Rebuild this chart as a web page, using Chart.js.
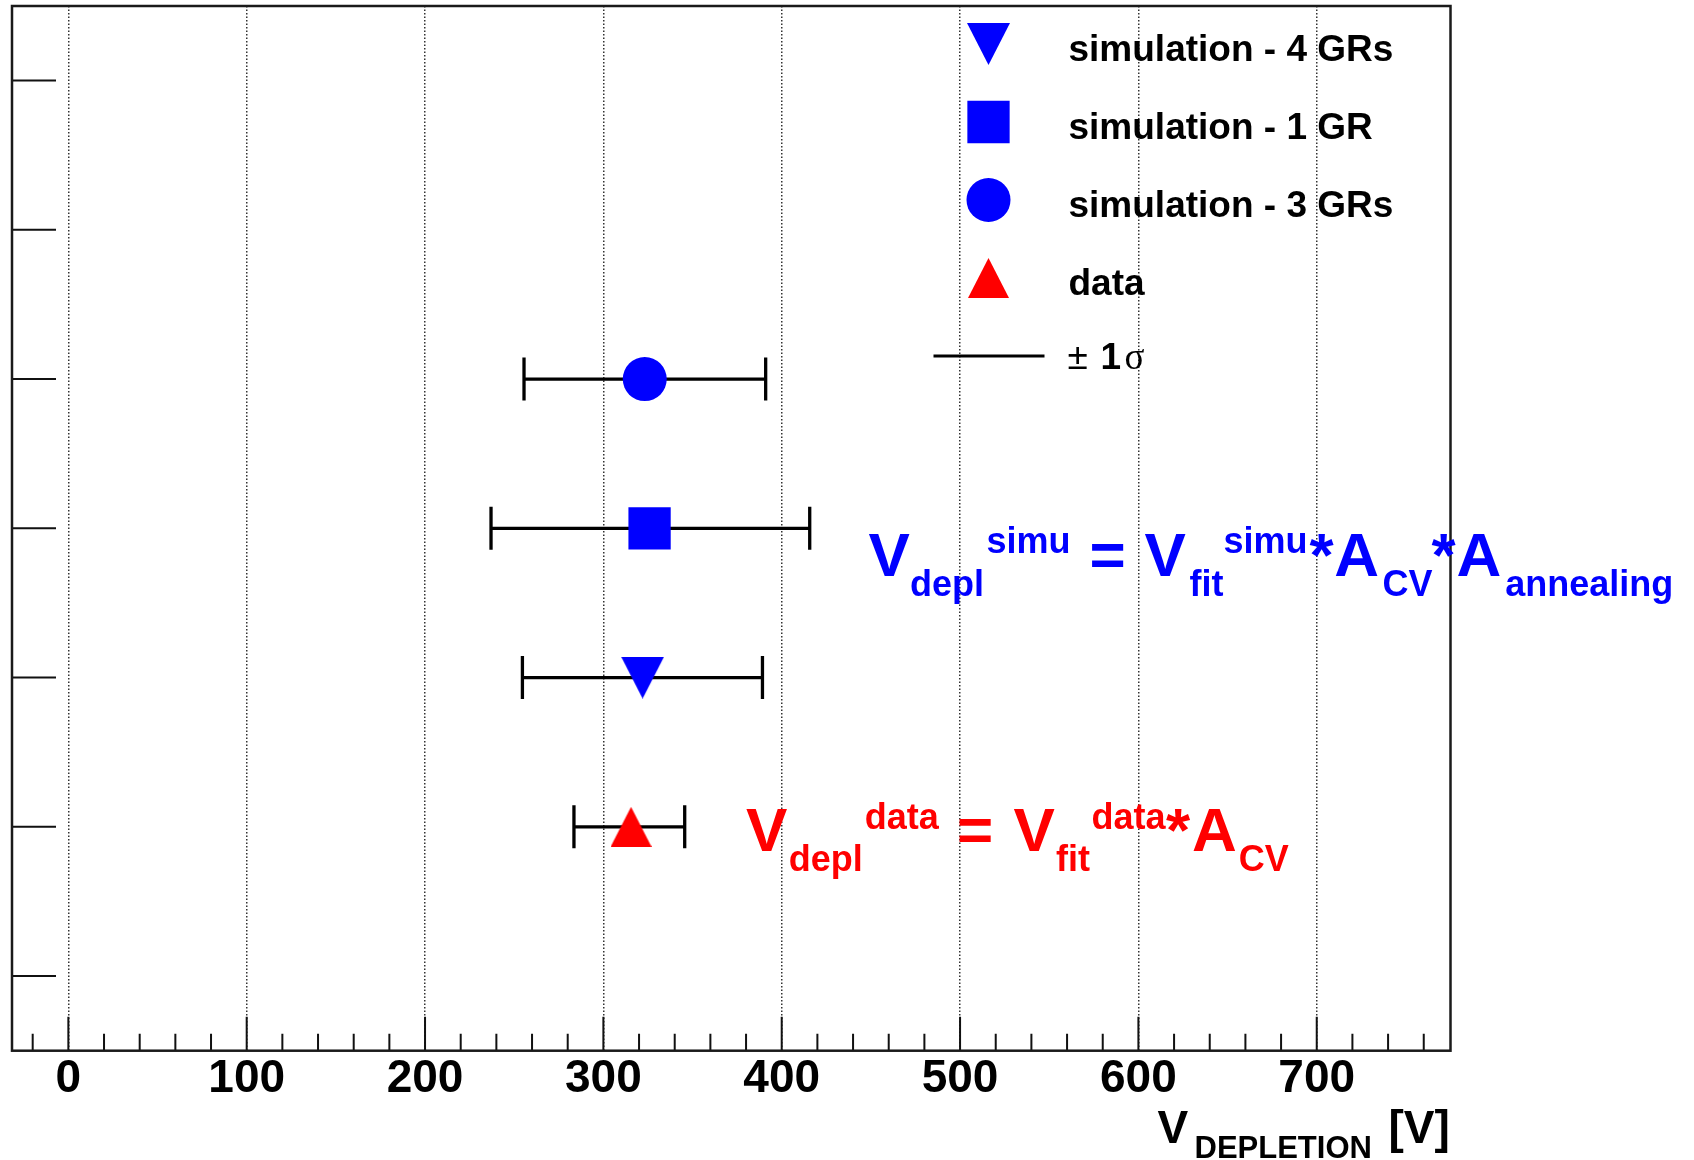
<!DOCTYPE html>
<html>
<head>
<meta charset="utf-8">
<title>V depletion</title>
<script src="https://cdn.jsdelivr.net/npm/chart.js@4.4.0/dist/chart.umd.min.js"></script>
<style>
    html, body { margin: 0; padding: 0; background: #fff; }
    #wrap { width: 1694px; height: 1160px; }
</style>
</head>
<body>
<div id="wrap"><canvas id="vdeplChart" width="1694" height="1160"></canvas></div>
<script>
// ---------------------------
// DATA
// ---------------------------
const seriesNames = ["simulation - 4 GRs", "simulation - 1 GR", "simulation - 3 GRs", "data"];
const seriesRow = [5, 4, 3, 6];                  // row on the hidden vertical axis (1 = top)
const vDepletion = [322.0, 325.9, 323.2, 315.5];
const vLow = [254.6, 237.0, 255.5, 283.5];       // -1 sigma
const vHigh = [389.2, 415.7, 391.0, 345.6];      // +1 sigma

const xTicks = [0, 100, 200, 300, 400, 500, 600, 700];
const yTicks = [1, 2, 3, 4, 5, 6, 7];
const xRange = [-31.6, 775];
const yRange = [0.5, 7.5];

// ---------------------------
// STYLES
// ---------------------------
const BLUE = "#0000ff";
const RED = "#ff0000";
const FONT = "Liberation Sans, Arial, Helvetica, sans-serif";

function triangleMarker(w, h, color, down) {
    const c = document.createElement("canvas");
    c.width = w;
    c.height = h;
    const g = c.getContext("2d");
    g.fillStyle = color;
    g.beginPath();
    if (down) {
        g.moveTo(0, 0); g.lineTo(w, 0); g.lineTo(w / 2, h);
    } else {
        g.moveTo(w / 2, 0); g.lineTo(w, h); g.lineTo(0, h);
    }
    g.closePath();
    g.fill();
    return c;
}

const markerStyles = [
    { style: triangleMarker(43, 42, BLUE, true), radius: 21, color: BLUE },
    { style: "rect", radius: 29.9, color: BLUE },
    { style: "circle", radius: 22, color: BLUE },
    { style: triangleMarker(41, 40, RED, false), radius: 20, color: RED }
];

// ---------------------------
// DATASETS
// ---------------------------
const markerSets = seriesNames.map((name, i) => ({
    label: name,
    data: [{ x: vDepletion[i], y: seriesRow[i] }],
    pointStyle: markerStyles[i].style,
    pointRadius: markerStyles[i].radius,
    pointHoverRadius: markerStyles[i].radius,
    backgroundColor: markerStyles[i].color,
    pointBorderWidth: 0,
    order: 0
}));

const errorSets = seriesNames.map((name, i) => ({
    label: name + " \u00b11\u03c3",
    data: [{ x: vLow[i], y: seriesRow[i] }, { x: vHigh[i], y: seriesRow[i] }],
    showLine: true,
    borderColor: "#000",
    borderWidth: 3.3,
    pointStyle: "line",
    pointRotation: 90,
    pointRadius: 21.5,
    pointHoverRadius: 21.5,
    pointBorderColor: "#000",
    pointBorderWidth: 3.3,
    order: 1
}));

// ---------------------------
// FRAME + INSIDE TICKS (ROOT style)
// ---------------------------
const framePlugin = {
    id: "frame",
    beforeDatasetsDraw(chart) {
        const { ctx, chartArea: a, scales } = chart;
        ctx.save();
        ctx.strokeStyle = "#111";
        ctx.lineWidth = 2;
        ctx.beginPath();
        xTicks.forEach(v => {
            const px = scales.x.getPixelForValue(v);
            ctx.moveTo(px, a.bottom);
            ctx.lineTo(px, a.bottom - 34);
        });
        for (let v = Math.ceil(xRange[0] / 20) * 20; v <= xRange[1]; v += 20) {
            if (v % 100 === 0) continue;
            const px = scales.x.getPixelForValue(v);
            ctx.moveTo(px, a.bottom);
            ctx.lineTo(px, a.bottom - 17);
        }
        yTicks.forEach(v => {
            const py = scales.y.getPixelForValue(v);
            ctx.moveTo(a.left, py);
            ctx.lineTo(a.left + 44, py);
        });
        ctx.stroke();

        ctx.strokeStyle = "#1a1a1a";
        ctx.lineWidth = 2.5;
        ctx.strokeRect(a.left, a.top, a.right - a.left, a.bottom - a.top);
        ctx.restore();
    }
};

// ---------------------------
// LEGEND, FORMULAS, AXIS TITLE
// ---------------------------
function drawRich(ctx, segs, x0, y0, color) {
    ctx.fillStyle = color;
    segs.forEach(([txt, big, dx, dy]) => {
        ctx.font = "bold " + (big ? 62 : 36) + "px " + FONT;
        ctx.fillText(txt, x0 + dx, y0 + dy);
    });
}

const blueFormula = [
    ["V", 1, 0, 0], ["depl", 0, 41.5, 20], ["simu", 0, 118, -23], ["=", 1, 221, 0],
    ["V", 1, 276, 0], ["fit", 0, 321, 20], ["simu", 0, 355, -23], ["*", 1, 441, 0],
    ["A", 1, 465.6, 0], ["CV", 0, 514, 20], ["*", 1, 563, 0], ["A", 1, 588, 0],
    ["annealing", 0, 636.7, 20]
];
const redFormula = [
    ["V", 1, 0, 0], ["depl", 0, 42.6, 20], ["data", 0, 118.6, -22], ["=", 1, 211, 0],
    ["V", 1, 267.4, 0], ["fit", 0, 310, 20], ["data", 0, 345.4, -22], ["*", 1, 420, 0],
    ["A", 1, 446, 0], ["CV", 0, 492.6, 20]
];

const annotationPlugin = {
    id: "annotations",
    afterDraw(chart) {
        const { ctx, chartArea: a, scales } = chart;
        ctx.save();
        ctx.textBaseline = "alphabetic";
        ctx.textAlign = "left";

        // legend (ROOT TLegend, no border)
        const lx = a.right - 462;
        const legendOrder = [0, 1, 2, 3];
        legendOrder.forEach((s, r) => {
            const ly = a.top + 38 + r * 78;
            const ds = markerSets[s];
            ctx.fillStyle = ds.backgroundColor;
            if (Chart.helpers && Chart.helpers.drawPoint) {
                Chart.helpers.drawPoint(ctx, {
                    pointStyle: ds.pointStyle, rotation: 0,
                    radius: ds.pointRadius, borderWidth: 0
                }, lx, ly);
            }
            ctx.fillStyle = "#000";
            ctx.font = "bold 37px " + FONT;
            ctx.fillText(seriesNames[s], lx + 80, ly + 16.5);
        });
        const sy = a.top + 38 + 4 * 78;
        ctx.strokeStyle = "#000";
        ctx.lineWidth = 3;
        ctx.beginPath();
        ctx.moveTo(lx - 55, sy);
        ctx.lineTo(lx + 56, sy);
        ctx.stroke();
        ctx.fillStyle = "#000";
        ctx.font = "37px " + FONT;
        ctx.fillText("\u00b1", lx + 79, sy + 13);
        ctx.font = "bold 37px " + FONT;
        ctx.fillText("1", lx + 112, sy + 13);
        ctx.font = "37px Liberation Serif, Times New Roman, serif";
        ctx.fillText("\u03c3", lx + 136, sy + 13);

        // formulas, anchored in data coordinates
        drawRich(ctx, blueFormula, scales.x.getPixelForValue(448.7), scales.y.getPixelForValue(4.318), BLUE);
        drawRich(ctx, redFormula, scales.x.getPixelForValue(380.0), scales.y.getPixelForValue(6.161), RED);

        // x axis title: V_DEPLETION [V]
        ctx.fillStyle = "#000";
        ctx.font = "bold 46px " + FONT;
        ctx.fillText("V", a.right - 293, a.bottom + 92);
        ctx.fillText("[V]", a.right - 62, a.bottom + 92);
        ctx.font = "bold 31px " + FONT;
        ctx.fillText("DEPLETION", a.right - 256, a.bottom + 107.6);
        ctx.restore();
    }
};

// ---------------------------
// CHART
// ---------------------------
const chartEl = document.getElementById("vdeplChart");
new Chart(chartEl.getContext("2d"), {
    type: "scatter",
    data: { datasets: [...markerSets, ...errorSets] },
    options: {
        responsive: false,
        animation: false,
        events: [],
        layout: {
            autoPadding: false,
            padding: { left: 12, top: 6, right: 243.5, bottom: 0 }
        },
        plugins: {
            legend: { display: false },
            tooltip: { enabled: false }
        },
        scales: {
            x: {
                type: "linear",
                min: xRange[0],
                max: xRange[1],
                afterBuildTicks: s => { s.ticks = xTicks.map(v => ({ value: v })); },
                afterFit: s => { s.height = 109.3; },
                grid: { color: "#333", lineWidth: 1.5, drawTicks: false },
                border: { display: false, dash: [1.5, 2] },
                ticks: {
                    color: "#000",
                    padding: 6,
                    maxRotation: 0,
                    autoSkip: false,
                    font: { family: FONT, weight: "bold", size: 46, lineHeight: 1 }
                }
            },
            y: {
                type: "linear",
                display: false,
                reverse: true,
                min: yRange[0],
                max: yRange[1]
            }
        }
    },
    plugins: [framePlugin, annotationPlugin]
});
</script>
</body>
</html>
